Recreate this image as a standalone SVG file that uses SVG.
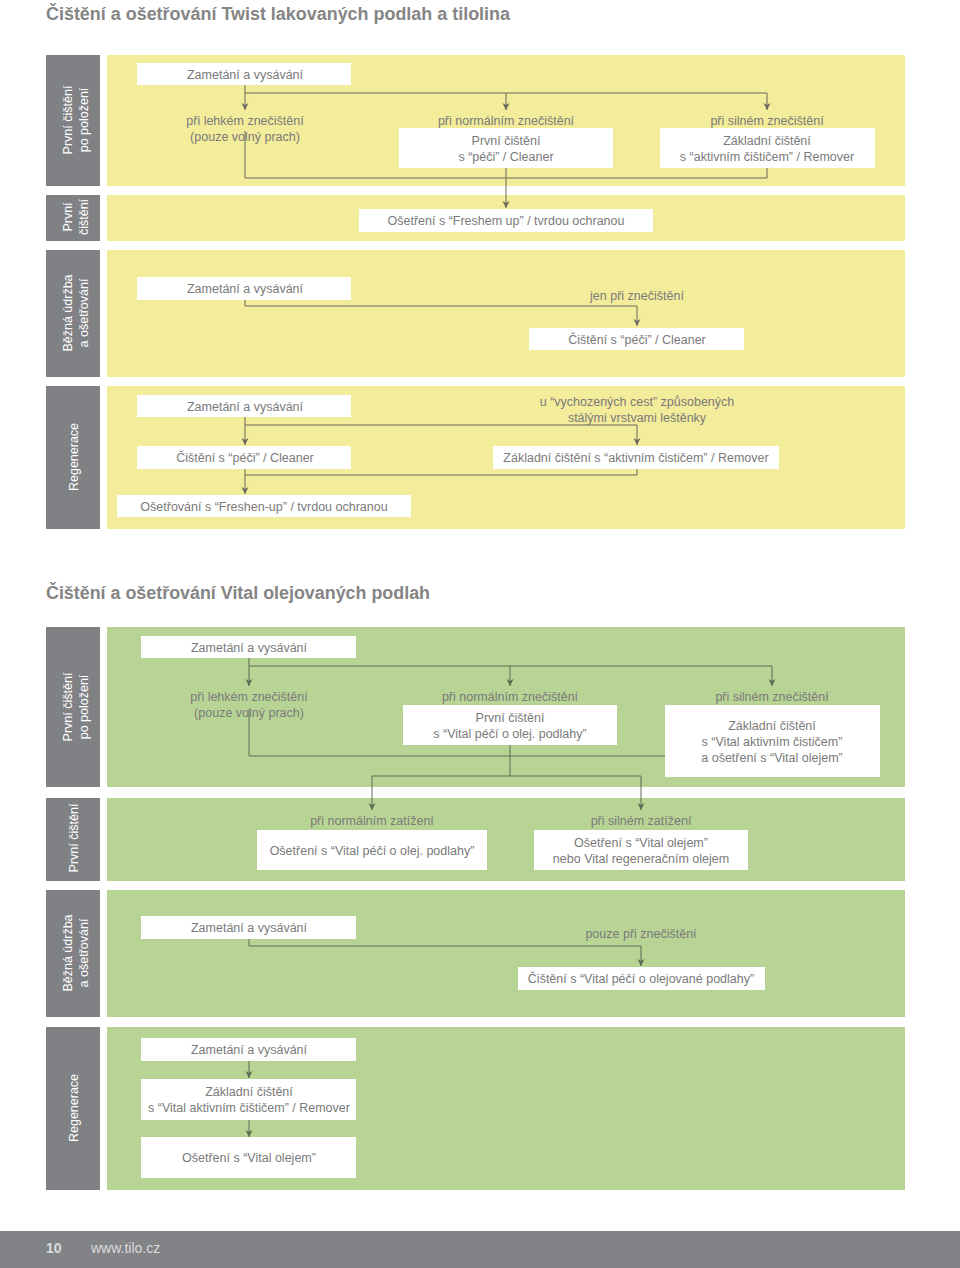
<svg xmlns="http://www.w3.org/2000/svg" width="960" height="1268" viewBox="0 0 960 1268">
<defs>
<style>
.t{font-family:"Liberation Sans",Arial,sans-serif;font-size:12.5px;fill:#7a7a7a;text-anchor:middle}
.side{font-family:"Liberation Sans",Arial,sans-serif;font-size:12.5px;fill:#ffffff;text-anchor:middle}
.h{font-family:"Liberation Sans",Arial,sans-serif;font-size:18px;font-weight:bold;fill:#858585}
.sg{fill:#808184}
.y{fill:#f3ec9b}
.g{fill:#b8d495}
.box{fill:#ffffff}
.cy{fill:none;stroke:#6b695c;stroke-width:1}
.cg{fill:none;stroke:#5c6a52;stroke-width:1}
</style>
<marker id="ay" viewBox="0 0 10 10" refX="10" refY="5" markerWidth="7" markerHeight="8" markerUnits="userSpaceOnUse" orient="auto"><path d="M0,0 L10,5 L0,10 L3,5 z" fill="#6b695c"/></marker>
<marker id="ag" viewBox="0 0 10 10" refX="10" refY="5" markerWidth="7" markerHeight="8" markerUnits="userSpaceOnUse" orient="auto"><path d="M0,0 L10,5 L0,10 L3,5 z" fill="#5c6a52"/></marker>
</defs>
<rect width="960" height="1268" fill="#ffffff"/>

<text class="h" x="46" y="20" textLength="464" lengthAdjust="spacingAndGlyphs">Čištění a ošetřování Twist lakovaných podlah a tilolina</text>

<!-- Yellow section backgrounds -->
<g id="twist-lanes">
<rect class="sg" x="46" y="55" width="54" height="131"/>
<rect class="y" x="107" y="55" width="798" height="131"/>
<rect class="sg" x="46" y="195" width="54" height="46"/>
<rect class="y" x="107" y="195" width="798" height="46"/>
<rect class="sg" x="46" y="250" width="54" height="127"/>
<rect class="y" x="107" y="250" width="798" height="127"/>
<rect class="sg" x="46" y="386" width="54" height="143"/>
<rect class="y" x="107" y="386" width="798" height="143"/>
<text class="side" transform="translate(73,120) rotate(-90)"><tspan x="0" y="-1">První čištění</tspan><tspan x="0" y="15">po položení</tspan></text>
<text class="side" transform="translate(73,217) rotate(-90)"><tspan x="0" y="-1">První</tspan><tspan x="0" y="15">čištění</tspan></text>
<text class="side" transform="translate(73,313) rotate(-90)"><tspan x="0" y="-1">Běžná údržba</tspan><tspan x="0" y="15">a ošetřování</tspan></text>
<text class="side" transform="translate(73,457) rotate(-90)"><tspan x="0" y="4.5">Regenerace</tspan></text>
</g>

<!-- Yellow connectors -->
<g id="twist-connectors">
<path class="cy" d="M245,85 V110" marker-end="url(#ay)"/>
<path class="cy" d="M245,93 H767 V110" marker-end="url(#ay)"/>
<path class="cy" d="M506,93 V110" marker-end="url(#ay)"/>
<path class="cy" d="M245,131 V178 H767 V168"/>
<path class="cy" d="M506,168 V208" marker-end="url(#ay)"/>
<path class="cy" d="M245,300 V306 H637 V326" marker-end="url(#ay)"/>
<path class="cy" d="M245,417 V445" marker-end="url(#ay)"/>
<path class="cy" d="M245,425 H637 V445" marker-end="url(#ay)"/>
<path class="cy" d="M637,469 V475 H245"/>
<path class="cy" d="M245,469 V494" marker-end="url(#ay)"/>
</g>

<g id="t1-zametani"><rect class="box" x="137" y="63" width="214" height="22"/><text class="t" x="245" y="79">Zametání a vysávání</text></g>
<g id="t1-lehke"><text class="t" x="245" y="124.5">při lehkém znečištění</text><text class="t" x="245" y="140.5">(pouze volný prach)</text></g>
<g id="t1-normalni"><text class="t" x="506" y="124.5">při normálním znečištění</text><rect class="box" x="399" y="128" width="214" height="40"/><text class="t" x="506" y="145">První čištění</text><text class="t" x="506" y="161">s “péči” / Cleaner</text></g>
<g id="t1-silne"><text class="t" x="767" y="124.5">při silném znečištění</text><rect class="box" x="660" y="128" width="215" height="40"/><text class="t" x="767" y="145">Základní čištění</text><text class="t" x="767" y="161">s “aktivním čištičem” / Remover</text></g>
<g id="t2-freshem"><rect class="box" x="359" y="209" width="294" height="23"/><text class="t" x="506" y="225">Ošetření s “Freshem up” / tvrdou ochranou</text></g>
<g id="t3-zametani"><rect class="box" x="137" y="277" width="214" height="23"/><text class="t" x="245" y="293">Zametání a vysávání</text></g>
<g id="t3-jen"><text class="t" x="637" y="300">jen při znečištění</text></g>
<g id="t3-cleaner"><rect class="box" x="529" y="328" width="215" height="22"/><text class="t" x="637" y="344">Čištění s “péči” / Cleaner</text></g>
<g id="t4-zametani"><rect class="box" x="137" y="395" width="214" height="22"/><text class="t" x="245" y="411">Zametání a vysávání</text></g>
<g id="t4-cest"><text class="t" x="637" y="406">u “vychozených cest” způsobených</text><text class="t" x="637" y="421.5">stálými vrstvami leštěnky</text></g>
<g id="t4-cleaner"><rect class="box" x="137" y="446" width="214" height="23"/><text class="t" x="245" y="462">Čištění s “péči” / Cleaner</text></g>
<g id="t4-remover"><rect class="box" x="493" y="446" width="286" height="23"/><text class="t" x="636" y="462">Základní čištění s “aktivním čističem” / Remover</text></g>
<g id="t4-freshen"><rect class="box" x="117" y="495" width="294" height="22"/><text class="t" x="264" y="511">Ošetřování s “Freshen-up” / tvrdou ochranou</text></g>

<text class="h" x="46" y="599" textLength="384" lengthAdjust="spacingAndGlyphs">Čištění a ošetřování Vital olejovaných podlah</text>

<!-- Green section backgrounds -->
<g id="vital-lanes">
<rect class="sg" x="46" y="627" width="54" height="160"/>
<rect class="g" x="107" y="627" width="798" height="160"/>
<rect class="sg" x="46" y="798" width="54" height="83"/>
<rect class="g" x="107" y="798" width="798" height="83"/>
<rect class="sg" x="46" y="890" width="54" height="127"/>
<rect class="g" x="107" y="890" width="798" height="127"/>
<rect class="sg" x="46" y="1027" width="54" height="163"/>
<rect class="g" x="107" y="1027" width="798" height="163"/>
<text class="side" transform="translate(73,707) rotate(-90)"><tspan x="0" y="-1">První čištění</tspan><tspan x="0" y="15">po položení</tspan></text>
<text class="side" transform="translate(73,838) rotate(-90)"><tspan x="0" y="4.5">První čištění</tspan></text>
<text class="side" transform="translate(73,953) rotate(-90)"><tspan x="0" y="-1">Běžná údržba</tspan><tspan x="0" y="15">a ošetřování</tspan></text>
<text class="side" transform="translate(73,1108) rotate(-90)"><tspan x="0" y="4.5">Regenerace</tspan></text>
</g>

<!-- Green connectors -->
<g id="vital-connectors">
<path class="cg" d="M249,658 V686" marker-end="url(#ag)"/>
<path class="cg" d="M249,666 H772 V686" marker-end="url(#ag)"/>
<path class="cg" d="M510,666 V686" marker-end="url(#ag)"/>
<path class="cg" d="M249,709 V756 H665"/>
<path class="cg" d="M510,745 V776"/>
<path class="cg" d="M372,776 H641"/>
<path class="cg" d="M372,776 V810" marker-end="url(#ag)"/>
<path class="cg" d="M641,776 V810" marker-end="url(#ag)"/>
<path class="cg" d="M249,939 V946 H641 V966" marker-end="url(#ag)"/>
<path class="cg" d="M249,1061 V1078" marker-end="url(#ag)"/>
<path class="cg" d="M249,1120 V1137" marker-end="url(#ag)"/>
</g>

<g id="v1-zametani"><rect class="box" x="141" y="636" width="215" height="22"/><text class="t" x="249" y="652">Zametání a vysávání</text></g>
<g id="v1-lehke"><text class="t" x="249" y="700.5">při lehkém znečištění</text><text class="t" x="249" y="716.5">(pouze volný prach)</text></g>
<g id="v1-normalni"><text class="t" x="510" y="700.5">při normálním znečištění</text><rect class="box" x="403" y="705" width="214" height="40"/><text class="t" x="510" y="722">První čištění</text><text class="t" x="510" y="738">s “Vital péčí o olej. podlahy”</text></g>
<g id="v1-silne"><text class="t" x="772" y="700.5">při silném znečištění</text><rect class="box" x="665" y="705" width="215" height="72"/><text class="t" x="772" y="730">Základní čištění</text><text class="t" x="772" y="746">s “Vital aktivním čističem”</text><text class="t" x="772" y="762">a ošetření s “Vital olejem”</text></g>
<g id="v2-normalni"><text class="t" x="372" y="825">při normálním zatížení</text><rect class="box" x="257" y="830" width="230" height="40"/><text class="t" x="372" y="855">Ošetření s “Vital péčí o olej. podlahy”</text></g>
<g id="v2-silne"><text class="t" x="641" y="825">při silném zatížení</text><rect class="box" x="534" y="830" width="214" height="40"/><text class="t" x="641" y="847">Ošetření s “Vital olejem”</text><text class="t" x="641" y="863">nebo Vital regeneračním olejem</text></g>
<g id="v3-zametani"><rect class="box" x="141" y="916" width="215" height="23"/><text class="t" x="249" y="932">Zametání a vysávání</text></g>
<g id="v3-pouze"><text class="t" x="641" y="938">pouze při znečištění</text></g>
<g id="v3-cisteni"><rect class="box" x="518" y="967" width="247" height="23"/><text class="t" x="641" y="983">Čištění s “Vital péčí o olejované podlahy”</text></g>
<g id="v4-zametani"><rect class="box" x="141" y="1038" width="215" height="23"/><text class="t" x="249" y="1054">Zametání a vysávání</text></g>
<g id="v4-zakladni"><rect class="box" x="141" y="1079" width="215" height="41"/><text class="t" x="249" y="1096">Základní čištění</text><text class="t" x="249" y="1112">s “Vital aktivním čištičem” / Remover</text></g>
<g id="v4-olej"><rect class="box" x="141" y="1137" width="215" height="41"/><text class="t" x="249" y="1162">Ošetření s “Vital olejem”</text></g>

<g id="footer">
<rect x="0" y="1231" width="960" height="37" fill="#828387"/>
<text x="46" y="1253" font-family="Liberation Sans, Arial, sans-serif" font-size="14" font-weight="bold" fill="#dcdcdc">10</text>
<text x="91" y="1253" font-family="Liberation Sans, Arial, sans-serif" font-size="14" fill="#dcdcdc">www.tilo.cz</text>
</g>
</svg>
